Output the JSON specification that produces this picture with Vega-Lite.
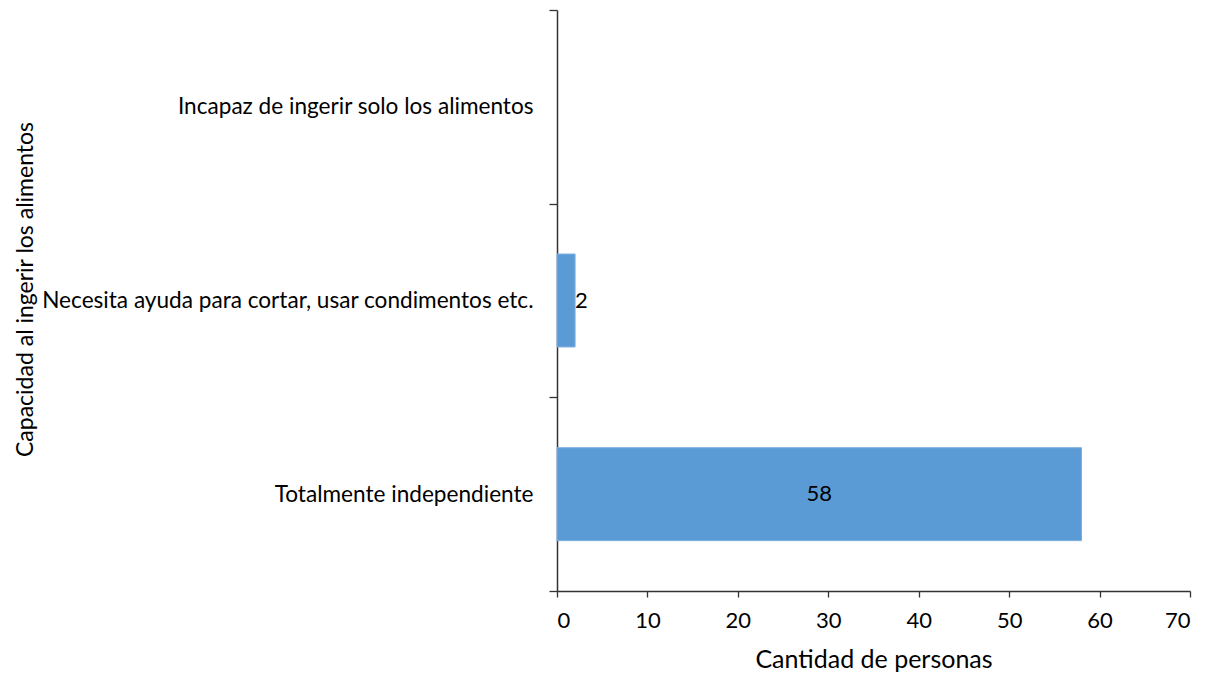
{
  "$schema": "https://vega.github.io/schema/vega-lite/v6.json",
  "width": 633,
  "height": 581,
  "autosize": "none",
  "padding": {"left": 557, "top": 10, "right": 24, "bottom": 86},
  "background": "white",
  "config": {
    "view": {"stroke": null},
    "font": "Lato",
    "axis": {"labelFont": "Lato", "titleFont": "Lato", "labelColor": "black", "titleColor": "black", "grid": false, "titleFontWeight": "normal"}
  },
  "data": {
    "values": [
      {"cat": "Incapaz de ingerir solo los alimentos", "n": 0},
      {"cat": "Necesita ayuda para cortar, usar condimentos etc.", "n": 2},
      {"cat": "Totalmente independiente", "n": 58}
    ]
  },
  "encoding": {
    "y": {
      "field": "cat",
      "type": "nominal",
      "scale": {"domain": ["Incapaz de ingerir solo los alimentos", "Necesita ayuda para cortar, usar condimentos etc.", "Totalmente independiente"], "paddingInner": 0, "paddingOuter": 0},
      "axis": {
        "title": "Capacidad al ingerir los alimentos",
        "titleFontSize": 23,
        "titleAngle": -90,
        "titleBaseline": "middle",
        "titleAlign": "center",
        "titleX": -532,
        "titleY": 279,
        "labelFontSize": 22.6,
        "labelPadding": 16,
        "tickSize": 8,
        "tickBand": "extent",
        "tickColor": "#333",
        "domainColor": "#333",
        "domainWidth": 1.5,
        "tickWidth": 1.3,
        "labelLimit": 600
      }
    }
  },
  "layer": [
    {
      "transform": [{"filter": "datum.n > 0"}],
      "mark": {"type": "bar", "color": "#5B9BD5", "stroke": "#7EB0DF", "strokeWidth": 1, "height": {"band": 0.48}},
      "encoding": {
        "x": {
          "field": "n",
          "type": "quantitative",
          "scale": {"domain": [0, 70], "nice": false},
          "axis": {
            "title": "Cantidad de personas",
            "titleFontSize": 25,
            "titlePadding": 16,
            "labelFontSize": 22,
            "labelPadding": 13,
            "labelOverlap": false,
            "values": [0, 10, 20, 30, 40, 50, 60, 70],
            "tickSize": 6,
            "tickColor": "#333",
            "domainColor": "#333",
            "domainWidth": 1.3,
            "tickWidth": 1.3
          }
        }
      }
    },
    {
      "transform": [{"filter": "datum.n >= 10"}, {"calculate": "datum.n / 2", "as": "mid"}],
      "mark": {"type": "text", "align": "center", "baseline": "middle", "fontSize": 22, "color": "black"},
      "encoding": {
        "x": {"field": "mid", "type": "quantitative"},
        "text": {"field": "n", "type": "quantitative"}
      }
    },
    {
      "transform": [{"filter": "datum.n > 0 && datum.n < 10"}],
      "mark": {"type": "text", "align": "left", "baseline": "middle", "fontSize": 22, "color": "black", "dx": 0},
      "encoding": {
        "x": {"field": "n", "type": "quantitative"},
        "text": {"field": "n", "type": "quantitative"}
      }
    }
  ]
}
